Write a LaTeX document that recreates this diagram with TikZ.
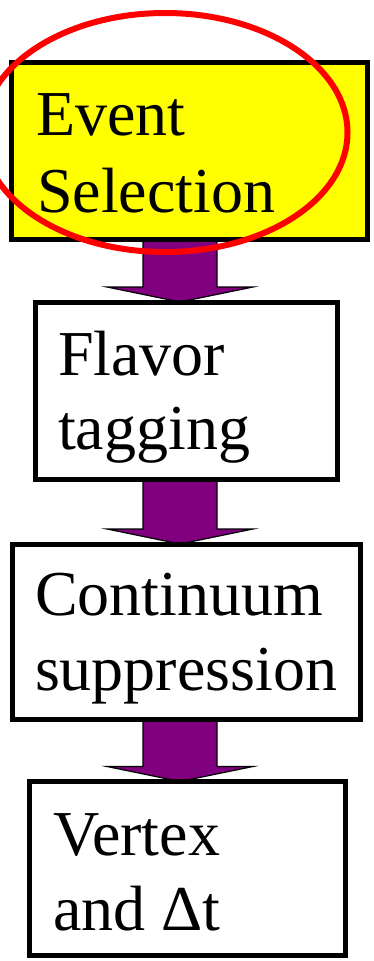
\documentclass[tikz,border=0pt]{standalone}
\usepackage{fontspec}
\setmainfont{Liberation Serif}
\newfontfamily\capfont{Liberation Serif}
\usetikzlibrary{calc,backgrounds}
\definecolor{flowpurple}{RGB}{128,0,128}
\definecolor{selyellow}{RGB}{255,255,0}
\definecolor{markred}{RGB}{255,0,0}
% block arrow from the bottom of #1 to the top of #2, centred on the axis
\newcommand\flowstep[2]{%
  \draw[flowarrow]
    ($(#1.south -| axis)+(-37,0)$) --
    ($(#2.north -| axis)+(-37,-15)$) --
    ($(#2.north -| axis)+(-73,-15)$) --
    (#2.north -| axis) --
    ($(#2.north -| axis)+(73,-15)$) --
    ($(#2.north -| axis)+(37,-15)$) --
    ($(#1.south -| axis)+(37,0)$) -- cycle;}
\begin{document}
\begin{tikzpicture}[x=1pt,y=-1pt,
  stage/.style={draw=black, line width=5pt, anchor=north west,
    inner sep=0pt, outer sep=0pt},
  caption/.style={anchor=base west, inner sep=0pt, outer sep=0pt,
    font=\capfont\fontsize{64}{75}\selectfont},
  flowarrow/.style={fill=flowpurple, draw=black, line width=1.2pt, line join=miter}]
\useasboundingbox (0,0) rectangle (374,961);
\coordinate (axis) at (180,0);

% stage boxes
\node[stage, fill=selyellow, minimum width=356pt, minimum height=177.5pt] (sel) at (11.5,62) {};
\node[stage, fill=white, minimum width=302.5pt, minimum height=177.5pt] (tag) at (35,302) {};
\node[stage, fill=white, minimum width=348pt, minimum height=175.5pt] (cont) at (12,544) {};
\node[stage, fill=white, minimum width=316.5pt, minimum height=174pt] (vtx) at (29,781.5) {};

% labels
\node[caption] (selA) at (36,135) {Event};
\node[caption] (selB) at (37,212) {Selection};
\node[caption] (tagA) at (58,375) {Flavor};
\node[caption] (tagB) at (58,449) {tagging};
\node[caption] (contA) at (35,615) {Continuum};
\node[caption] (contB) at (35,690) {suppression};
\node[caption] (vtxA) at (53,855) {Vertex};
\node[caption] (vtxB) at (53,930) {and Δt};

% connecting arrows behind the boxes
\begin{scope}[on background layer]
  \flowstep{sel}{tag}
  \flowstep{tag}{cont}
  \flowstep{cont}{vtx}
\end{scope}

% highlight ring round the first stage
\draw[markred, line width=6pt] (165,132.5) ellipse [x radius=182.5, y radius=119.5];
\end{tikzpicture}
\end{document}
